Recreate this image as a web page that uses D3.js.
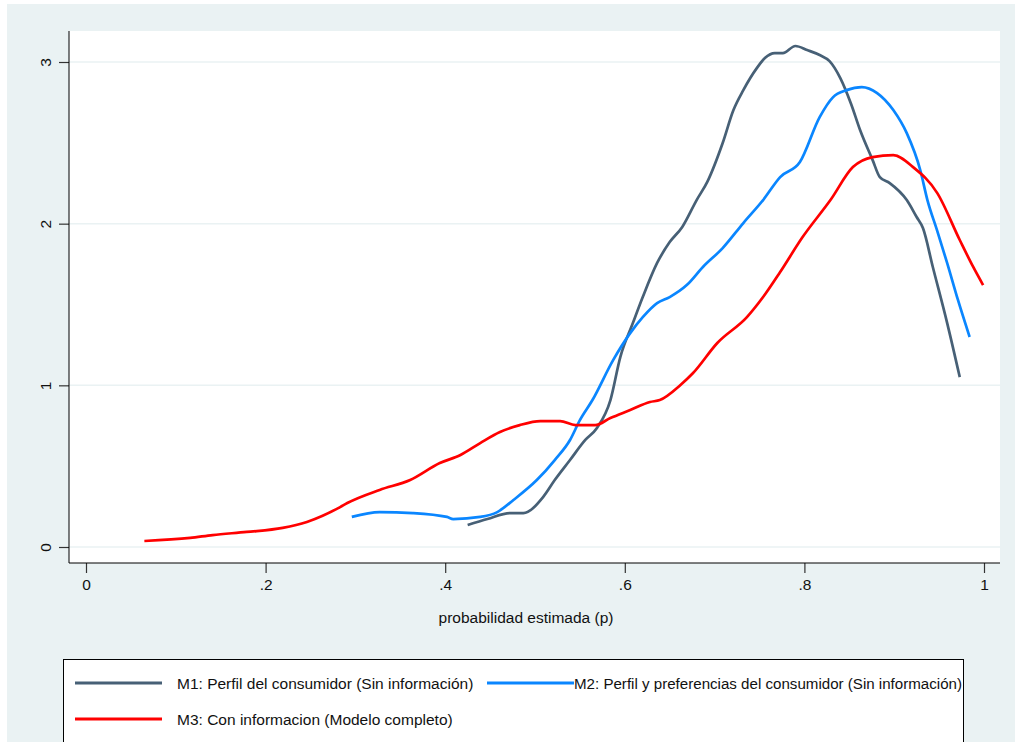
<!DOCTYPE html>
<html lang="es">
<head>
    <meta charset="utf-8">
    <title>Densidad de probabilidad estimada</title>
    <script src="https://cdn.jsdelivr.net/npm/d3@7"></script>
    <style type="text/css">
        body { margin: 0; background: #fff; }
        svg { display: block; font-family: "Liberation Sans", Arial, sans-serif; }
    </style>
</head>
<body>
<svg width="1015" height="742"></svg>
<script>
    // tick labels
    var xTicks = [0, 0.2, 0.4, 0.6, 0.8, 1],
        xTickLabels = ["0", ".2", ".4", ".6", ".8", "1"],
        yTicks = [0, 1, 2, 3];

    // series (p, density)
    var m1 = [[.425,.136],[.447,.173],[.472,.210],[.487,.210],[.509,.309],[.522,.414],[.539,.538],
              [.556,.662],[.569,.736],[.584,.909],[.595,1.175],[.609,1.385],[.620,1.546],[.636,1.757],
              [.650,1.886],[.664,1.980],[.680,2.146],[.692,2.260],[.709,2.499],[.721,2.703],[.732,2.826],
              [.747,2.962],[.756,3.024],[.767,3.055],[.776,3.055],[.790,3.099],[.803,3.074],[.817,3.043],
              [.828,3.005],[.840,2.900],[.852,2.740],[.862,2.579],[.876,2.393],[.884,2.288],[.895,2.251],
              [.914,2.146],[.925,2.041],[.932,1.973],[.943,1.732],[.959,1.385],[.973,1.051]];
    var m2 = [[.296,.186],[.327,.216],[.364,.210],[.402,.186],[.409,.173],[.439,.186],[.458,.216],
              [.476,.291],[.502,.414],[.522,.538],[.539,.662],[.550,.785],[.564,.909],[.587,1.156],
              [.606,1.323],[.620,1.422],[.636,1.509],[.650,1.546],[.669,1.620],[.687,1.732],[.709,1.849],
              [.732,2.004],[.754,2.146],[.773,2.288],[.795,2.381],[.817,2.659],[.832,2.783],[.847,2.826],
              [.864,2.845],[.881,2.808],[.899,2.703],[.914,2.560],[.929,2.332],[.937,2.146],[.948,1.954],
              [.959,1.756],[.971,1.528],[.984,1.299]];
    var m3 = [[.065,.037],[.116,.056],[.141,.074],[.179,.093],[.219,.118],[.246,.155],[.283,.247],
              [.291,.272],[.327,.353],[.361,.414],[.394,.519],[.417,.569],[.439,.643],[.461,.711],
              [.483,.754],[.506,.779],[.528,.779],[.545,.754],[.567,.754],[.584,.798],[.606,.847],
              [.628,.897],[.639,.909],[.662,1.002],[.676,1.076],[.703,1.262],[.736,1.422],[.754,1.546],
              [.773,1.701],[.798,1.917],[.829,2.146],[.854,2.350],[.876,2.412],[.899,2.424],[.921,2.350],
              [.948,2.189],[.973,1.899],[.988,1.732],[.999,1.620]];

    var seriesNames = ["M1: Perfil del consumidor (Sin información)",
                       "M2: Perfil y preferencias del consumidor (Sin información)",
                       "M3: Con informacion (Modelo completo)"];
    var colors = ["#476076", "#0a86ff", "#ff0000"];

    var svg = d3.select("svg");
    var plot = {left: 69, right: 1000, top: 31, bottom: 563};

    // outer background + white plot region
    svg.append("rect").attr("x", 7).attr("y", 4).attr("width", 1008).attr("height", 738)
       .attr("fill", "#eaf2f3");
    svg.append("rect").attr("x", plot.left).attr("y", plot.top)
       .attr("width", plot.right - plot.left).attr("height", plot.bottom - plot.top)
       .attr("fill", "#fff");

    var x = d3.scaleLinear().domain([0, 1]).range([86, 984]),
        y = d3.scaleLinear().domain([0, 3]).range([547, 62]);

    // grid
    svg.append("g").selectAll("line").data(yTicks).enter().append("line")
       .attr("x1", plot.left).attr("x2", plot.right)
       .attr("y1", function(d) { return y(d); }).attr("y2", function(d) { return y(d); })
       .attr("stroke", "#eaf2f3").attr("stroke-width", 1.5);

    // axes
    var gx = svg.append("g").attr("transform", "translate(0," + plot.bottom + ")")
        .call(d3.axisBottom(x).tickValues(xTicks).tickSize(10).tickPadding(6)
              .tickFormat(function(d, i) { return xTickLabels[i]; }));
    gx.select(".domain").remove();
    gx.selectAll("line").attr("stroke", "#333").attr("stroke-width", 1.2);
    gx.selectAll("text").attr("font-size", "15.5px").attr("font-family", "Liberation Sans, Arial, sans-serif")
      .attr("fill", "#111");

    var gy = svg.append("g").attr("transform", "translate(" + plot.left + ",0)")
        .call(d3.axisLeft(y).tickValues(yTicks).tickSize(10).tickFormat(d3.format("d")));
    gy.select(".domain").remove();
    gy.selectAll("line").attr("stroke", "#333").attr("stroke-width", 1.2);
    gy.selectAll("text")
      .attr("font-size", "15.5px").attr("font-family", "Liberation Sans, Arial, sans-serif")
      .attr("fill", "#111").attr("text-anchor", "middle")
      .attr("x", null).attr("dy", null)
      .attr("transform", "translate(-18,0) rotate(-90)");

    svg.append("line").attr("x1", plot.left).attr("x2", plot.left)
       .attr("y1", plot.top).attr("y2", plot.bottom).attr("stroke", "#000");
    svg.append("line").attr("x1", plot.left).attr("x2", plot.right)
       .attr("y1", plot.bottom).attr("y2", plot.bottom).attr("stroke", "#000");

    svg.append("text").attr("x", 526).attr("y", 623).attr("text-anchor", "middle")
       .attr("font-size", "15.5px").attr("fill", "#111").text("probabilidad estimada (p)");

    // curves
    var line = d3.line()
        .x(function(d) { return x(d[0]); })
        .y(function(d) { return y(d[1]); })
        .curve(d3.curveMonotoneX);

    [m1, m2, m3].forEach(function(s, i) {
        svg.append("path").datum(s).attr("d", line)
           .attr("fill", "none").attr("stroke", colors[i]).attr("stroke-width", 2.7)
           .attr("stroke-linejoin", "round");
    });

    // legend
    svg.append("rect").attr("x", 63.5).attr("y", 659.5).attr("width", 900).attr("height", 120)
       .attr("fill", "#fff").attr("stroke", "#000");
    var legendPos = [{x: 75, y: 683}, {x: 487, y: 683}, {x: 75, y: 719}];
    legendPos.forEach(function(p, i) {
        svg.append("line").attr("x1", p.x).attr("x2", p.x + 87)
           .attr("y1", p.y).attr("y2", p.y)
           .attr("stroke", colors[i]).attr("stroke-width", 3.2);
        var t = svg.append("text").attr("x", i == 1 ? p.x + 87 : p.x + 102).attr("y", p.y + 6)
           .attr("font-size", "15.5px").attr("fill", "#111").text(seriesNames[i]);
        if (i == 1) t.attr("textLength", 388).attr("lengthAdjust", "spacingAndGlyphs");
    });
</script>
</body>
</html>
